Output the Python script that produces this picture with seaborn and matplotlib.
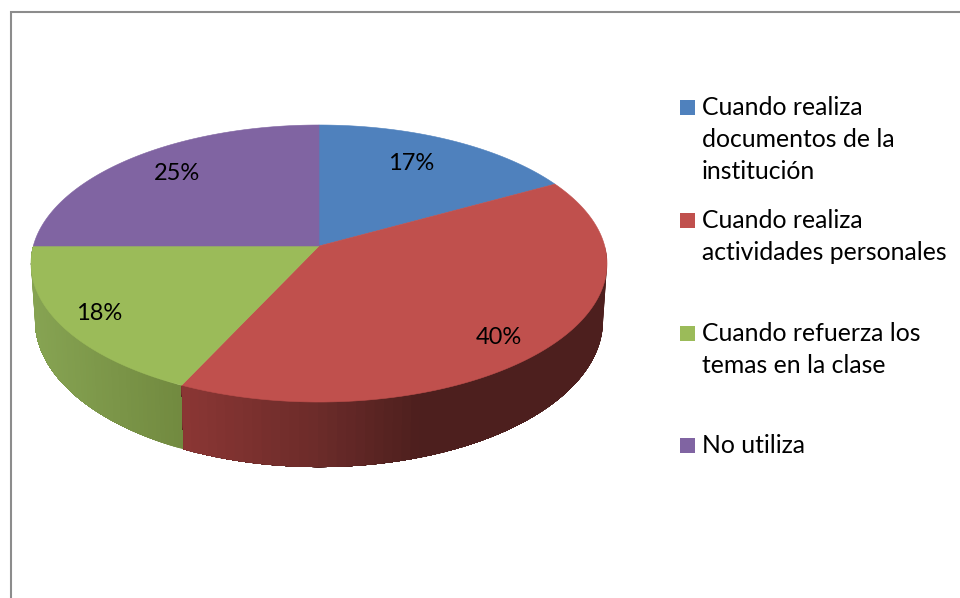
import numpy as np
import matplotlib.pyplot as plt
import seaborn as sns
from matplotlib.colors import to_rgb
from matplotlib.patches import Rectangle

categorias = ['Cuando realiza\ndocumentos de la\ninstitución',
              'Cuando realiza\nactividades personales',
              'Cuando refuerza los\ntemas en la clase',
              'No utiliza']
valores = [17, 40, 18, 25]
colores = ['#4F81BD', '#C0504D', '#9BBB59', '#8064A2']

sns.set_theme(style='white')
plt.rcParams['font.family'] = ['Lato', 'DejaVu Sans']


def proyectar(theta, abajo=False):
    # circulo visto en perspectiva, theta en horario desde arriba
    u, v = np.sin(theta), np.cos(theta)
    k = 0.1264
    x = 285.7 * u / (1 + k * v)
    y = 136.3 * v / (1 + k * v)
    if abajo:
        return 319 + 0.986 * x, 246 - 1.058 * y + 56
    return 319 + x, 246 - y


fig = plt.figure(figsize=(9.6, 5.98), dpi=100)
ax = fig.add_axes([0, 0, 1, 1])
ax.set_xlim(0, 960)
ax.set_ylim(598, 0)
ax.axis('off')

limites = 2 * np.pi * np.cumsum([0] + valores) / sum(valores)

# lateral con degradado, solo la mitad de delante
grad_x = {1: [186, 320, 420, 604], 2: [35, 185]}
grad_c = {1: ['#8A3634', '#6B2B29', '#4D1F1E', '#4D1F1E'], 2: ['#86A352', '#71893F']}
for i in (2, 1):
    ini = max(limites[i], np.pi / 2)
    fin = min(limites[i + 1], 3 * np.pi / 2)
    t = np.linspace(ini, fin, 70)
    rgb = np.array([to_rgb(c) for c in grad_c[i]])
    for n in range(len(t) - 1):
        # cada tira pisa hasta el final, asi no se ven costuras
        tira = np.linspace(t[n], fin, len(t) - n)
        xs1, ys1 = proyectar(tira)
        xs2, ys2 = proyectar(tira[::-1], abajo=True)
        xm = xs1[:2].mean()
        col = [np.interp(xm, grad_x[i], rgb[:, j]) for j in range(3)]
        ax.fill(np.r_[xs1, xs2], np.r_[ys1, ys2], color=col, lw=0, zorder=1)

# cara superior
for i, c in enumerate(colores):
    t = np.linspace(limites[i], limites[i + 1], 200)
    xs, ys = proyectar(t)
    ax.fill(np.r_[319, xs], np.r_[246, ys], color=c, lw=0.4, zorder=2)

pos_etiquetas = [(411, 163), (499, 337), (99, 313), (177, 174)]
for v, (x, y) in zip(valores, pos_etiquetas):
    ax.text(x, y, f'{v}%', ha='center', va='center', fontsize=17, color='black', zorder=3)

# leyenda a mano, los huecos no son regulares
y_base = [115, 228, 341, 453]
for nombre, c, yb in zip(categorias, colores, y_base):
    ax.add_patch(Rectangle((680, yb - 15), 15, 15, color=c, lw=0))
    for j, linea in enumerate(nombre.split('\n')):
        ax.text(702, yb + j * 32, linea, ha='left', va='baseline', fontsize=17.8, color='black')

# borde del grafico
ax.plot([11, 11, 960], [598, 12, 12], color='#8c8c8c', lw=1.5, solid_joinstyle='miter')

plt.savefig('out.png', dpi=100)
plt.close()
